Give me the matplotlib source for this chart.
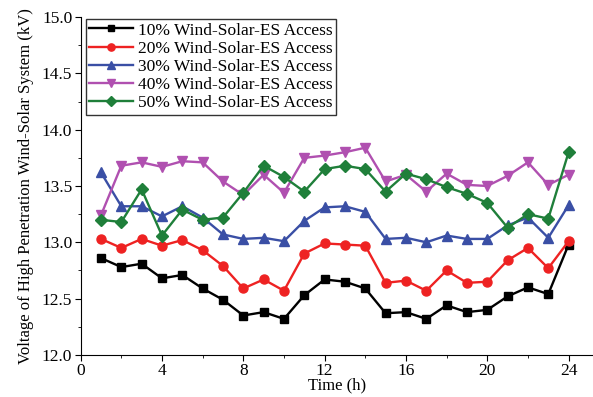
import numpy as np
import matplotlib.pyplot as plt
from matplotlib.ticker import MultipleLocator

plt.rcParams['font.family'] = ['Liberation Serif', 'DejaVu Serif']

hours = np.arange(1, 25)
v10 = [12.86, 12.78, 12.81, 12.68, 12.71, 12.59, 12.49, 12.35, 12.38, 12.32, 12.53, 12.67,
       12.65, 12.59, 12.37, 12.38, 12.32, 12.44, 12.38, 12.40, 12.52, 12.60, 12.54, 12.98]
v20 = [13.03, 12.95, 13.03, 12.97, 13.02, 12.93, 12.79, 12.59, 12.67, 12.57, 12.90, 12.99,
       12.98, 12.97, 12.64, 12.66, 12.57, 12.75, 12.64, 12.65, 12.84, 12.95, 12.77, 13.01]
v30 = [13.62, 13.32, 13.32, 13.23, 13.32, 13.22, 13.07, 13.03, 13.04, 13.01, 13.19, 13.31,
       13.32, 13.27, 13.03, 13.04, 13.00, 13.06, 13.03, 13.03, 13.15, 13.22, 13.04, 13.33]
v40 = [13.24, 13.68, 13.71, 13.67, 13.72, 13.71, 13.54, 13.42, 13.60, 13.44, 13.75, 13.77,
       13.80, 13.84, 13.54, 13.60, 13.45, 13.61, 13.51, 13.50, 13.59, 13.71, 13.51, 13.60]
v50 = [13.20, 13.18, 13.47, 13.06, 13.29, 13.20, 13.22, 13.44, 13.68, 13.58, 13.45, 13.65,
       13.68, 13.65, 13.45, 13.61, 13.56, 13.49, 13.43, 13.35, 13.13, 13.25, 13.21, 13.80]

labels = ['10% Wind-Solar-ES Access', '20% Wind-Solar-ES Access', '30% Wind-Solar-ES Access',
          '40% Wind-Solar-ES Access', '50% Wind-Solar-ES Access']
colors = ['#000000', '#ee2222', '#3a4fa5', '#b050b0', '#1f7f3a']
markers = ['s', 'o', '^', 'v', 'D']
msizes = [6, 6.5, 7, 7, 6]

fig = plt.figure(figsize=(5.93, 3.97), dpi=100)
ax = fig.add_axes([0.136, 0.106, 0.864, 0.851])
for vals, lab, c, m, ms in zip([v10, v20, v30, v40, v50], labels, colors, markers, msizes):
    ax.plot(hours, vals, color=c, marker=m, markersize=ms, linewidth=1.7, label=lab)

ax.set_xlim(0, 25.2)
ax.set_ylim(12.0, 15.0)
ax.xaxis.set_major_locator(MultipleLocator(4))
ax.xaxis.set_minor_locator(MultipleLocator(2))
ax.yaxis.set_major_locator(MultipleLocator(0.5))
ax.yaxis.set_minor_locator(MultipleLocator(0.25))
ax.yaxis.set_major_formatter(plt.FormatStrFormatter('%.1f'))
ax.spines['top'].set_visible(False)
ax.spines['right'].set_visible(False)
ax.tick_params(which='major', direction='out', length=4, labelsize=12.5, pad=2)
ax.tick_params(which='minor', direction='out', length=2.5)
ax.set_xlabel('Time (h)', fontsize=12, labelpad=-1)
ax.set_ylabel('Voltage of High Penetration Wind-Solar System (kV)', fontsize=12, labelpad=6)

leg = ax.legend(loc='upper left', fontsize=12.5, frameon=True, fancybox=False, edgecolor='black',
                handlelength=2.5, borderpad=0.2, labelspacing=0.12, handletextpad=0.3,
                borderaxespad=0.3, markerscale=0.8, bbox_to_anchor=(0.0, 1.01))
leg.get_frame().set_linewidth(1.0)

fig.savefig('out.png', dpi=100)
